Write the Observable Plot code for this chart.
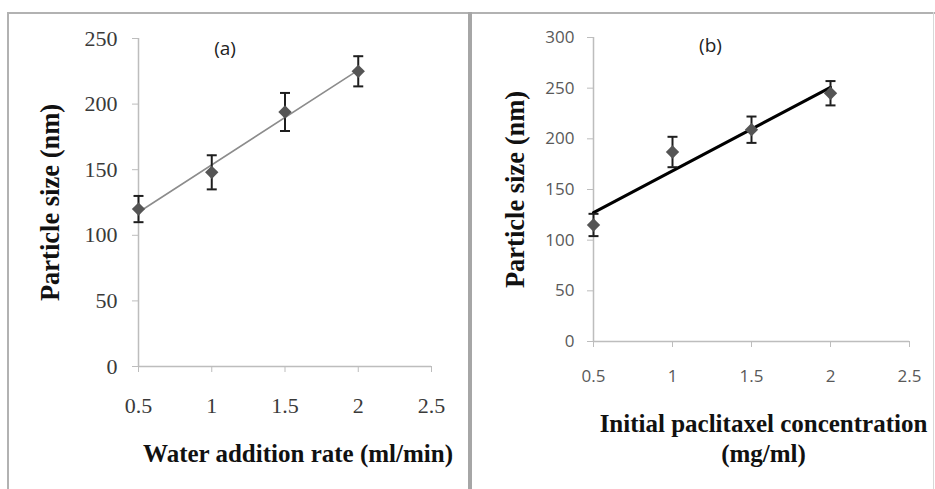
<!DOCTYPE html>
<html>
<head>
<meta charset="utf-8">
<script src="https://cdn.jsdelivr.net/npm/d3@7"></script>
<script src="https://cdn.jsdelivr.net/npm/@observablehq/plot@0.6"></script>
<style>
  html, body { margin: 0; padding: 0; background: #fff; }
  #wrap { position: relative; width: 935px; height: 489px; overflow: hidden; background: #fff; }
  .ln { position: absolute; background: #b2b2b2; }
  .panel { position: absolute; top: 0; }
</style>
</head>
<body>
<div id="wrap">
  <div class="ln" style="left:7px;top:12px;width:928px;height:2px;"></div>
  <div class="ln" style="left:7px;top:12px;width:2px;height:477px;"></div>
  <div class="ln" style="left:468px;top:12px;width:4px;height:477px;background:#a6a6a6;"></div>
  <div class="ln" style="left:933px;top:12px;width:1px;height:477px;background:#d8d8d8;"></div>
  <div id="pa" class="panel" style="left:0px;"></div>
  <div id="pb" class="panel" style="left:470px;"></div>
</div>
<script>
// ---- data ----
const rateA = [0.5, 1, 1.5, 2];            // water addition rate (ml/min)
const sizeA = [120, 148, 194, 225];        // particle size (nm)
const errA  = [10, 13, 14.5, 11.5];

const concB = [0.5, 1, 1.5, 2];            // initial paclitaxel concentration (mg/ml)
const sizeB = [115, 187, 209, 245];        // particle size (nm)
const errB  = [11, 15, 13, 12];

const xTicks  = [0.5, 1, 1.5, 2, 2.5];
const yTicksA = [0, 50, 100, 150, 200, 250];
const yTicksB = [0, 50, 100, 150, 200, 250, 300];

const tableA = rateA.map((x, i) => ({x, y: sizeA[i], e: errA[i]}));
const tableB = concB.map((x, i) => ({x, y: sizeB[i], e: errB[i]}));

// horizontal cap symbol for error bars
const cap = { draw(ctx, size) { const r = Math.sqrt(size / Math.PI); ctx.moveTo(-r, 0); ctx.lineTo(r, 0); } };

const serif = "'Liberation Serif', 'DejaVu Serif', serif";
const sans = "'Open Sans', 'Liberation Sans', sans-serif";

function panel(opts) {
  const {data, yTicks, yMax, width, ml, mr, mt, mb, tickFont, tickSize, tickColor,
         ytPad, xtPad, trendStroke, trendWidth, ytitle, ytitleDx, ytitleSize, xtitle, xtitleDx, xtitleDy,
         xtitleSize, tag, tagDx, tagDy, lineHeight} = opts;
  return Plot.plot({
    width, height: 489,
    marginLeft: ml, marginRight: mr, marginTop: mt, marginBottom: mb,
    style: {fontFamily: tickFont, fontSize: tickSize + "px", background: "transparent", overflow: "visible"},
    x: {domain: [0.5, 2.5], axis: null},
    y: {domain: [0, yMax], axis: null},
    marks: [
      Plot.ruleY([0], {stroke: "#bdbdbd", strokeWidth: 1.5}),
      Plot.ruleX([0.5], {stroke: "#bdbdbd", strokeWidth: 1.5}),
      Plot.axisX(xTicks, {tickSize: 6, tickPadding: xtPad, stroke: "#bdbdbd", fill: tickColor,
        tickFormat: d => String(d), label: null}),
      Plot.axisY(yTicks, {tickSize: 6, tickPadding: ytPad, stroke: "#bdbdbd", fill: tickColor,
        tickFormat: d => String(d), label: null}),
      Plot.linearRegressionY(data, {x: "x", y: "y", ci: 0, stroke: trendStroke, strokeWidth: trendWidth}),
      Plot.ruleX(data, {x: "x", y1: d => d.y - d.e, y2: d => d.y + d.e, stroke: "#1e1e1e", strokeWidth: 2}),
      Plot.dot(data, {x: "x", y: d => d.y + d.e, symbol: cap, r: 5, stroke: "#1e1e1e", strokeWidth: 2}),
      Plot.dot(data, {x: "x", y: d => d.y - d.e, symbol: cap, r: 5, stroke: "#1e1e1e", strokeWidth: 2}),
      Plot.dot(data, {x: "x", y: "y", symbol: "diamond2", r: 6, fill: "#555555", stroke: "none"}),
      Plot.text([ytitle], {frameAnchor: "left", dx: ytitleDx, rotate: -90, textAnchor: "middle",
        lineAnchor: "middle", fontFamily: serif, fontWeight: "bold", fontSize: ytitleSize, fill: "#111"}),
      Plot.text([xtitle], {frameAnchor: "bottom", dx: xtitleDx, dy: xtitleDy, textAnchor: "middle",
        lineAnchor: "middle", lineHeight, fontFamily: serif, fontWeight: "bold", fontSize: xtitleSize, fill: "#111"}),
      Plot.text([tag], {frameAnchor: "top", dx: tagDx, dy: tagDy, textAnchor: "middle",
        lineAnchor: "middle", fontFamily: sans, fontSize: 19, fill: "#222"})
    ]
  });
}

document.getElementById("pa").appendChild(panel({
  data: tableA, yTicks: yTicksA, yMax: 250, width: 468,
  ml: 138, mr: 37, mt: 38, mb: 123,
  tickFont: serif, tickSize: 22, tickColor: "#3a3a3a", ytPad: 15, xtPad: 25,
  trendStroke: "#8c8c8c", trendWidth: 1.6,
  ytitle: "Particle size (nm)", ytitleDx: -88, ytitleSize: 26.5,
  xtitle: "Water addition rate (ml/min)", xtitleDx: 13, xtitleDy: 87, xtitleSize: 25, lineHeight: 1,
  tag: "(a)", tagDx: -60, tagDy: 10
}));

document.getElementById("pb").appendChild(panel({
  data: tableB, yTicks: yTicksB, yMax: 300, width: 465,
  ml: 123, mr: 26, mt: 37, mb: 148,
  tickFont: sans, tickSize: 17, tickColor: "#595959", ytPad: 13, xtPad: 22,
  trendStroke: "#000", trendWidth: 3,
  ytitle: "Particle size (nm)", ytitleDx: -78, ytitleSize: 26.5,
  xtitle: "Initial paclitaxel concentration\n(mg/ml)", xtitleDx: 12, xtitleDy: 96, xtitleSize: 25, lineHeight: 30 / 25,
  tag: "(b)", tagDx: -41, tagDy: 8
}));
</script>
</body>
</html>
